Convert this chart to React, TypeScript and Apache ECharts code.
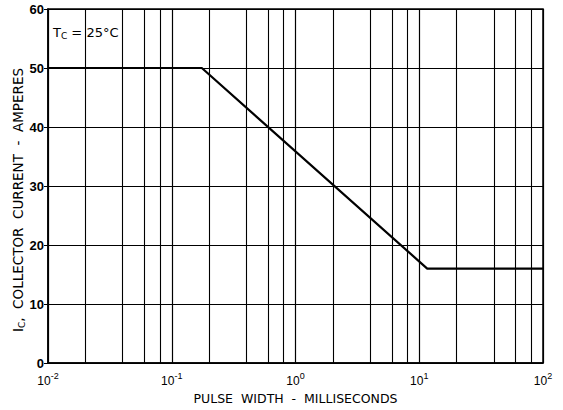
import React, { useEffect, useRef } from "react";
import * as echarts from "echarts";

const pulseWidthMs = [0.01, 0.175, 11.6, 100];
const collectorCurrentA = [50, 50, 16, 16];
const minorGridX = [
  0.02, 0.04, 0.06, 0.08,
  0.2, 0.4, 0.6, 0.8,
  2, 4, 6, 8,
  20, 40, 60, 80,
];
const xMin = 0.01;
const xMax = 100;
const yMin = 0;
const yMax = 60;
const yInterval = 10;

const FONT = "'Liberation Sans', Arial, sans-serif";
const WIDE = "'DejaVu Sans', sans-serif";

export default function App() {
  const ref = useRef<HTMLDivElement>(null);
  useEffect(() => {
    if (!ref.current) return;
    const chart = echarts.init(ref.current, null, { renderer: "svg" });
    chart.setOption({
      animation: false,
      backgroundColor: "#fff",
      grid: {
        left: 48,
        right: 20,
        top: 9,
        bottom: 46,
        show: true,
        borderColor: "#000",
        borderWidth: 1.5,
      },
      xAxis: {
        type: "log",
        logBase: 10,
        min: xMin,
        max: xMax,
        name: "PULSE  WIDTH  -  MILLISECONDS",
        nameLocation: "middle",
        nameGap: 29,
        nameTextStyle: { color: "#000", fontFamily: WIDE, fontSize: 12.5 },
        axisLine: { lineStyle: { color: "#000", width: 1.5 } },
        axisTick: { show: false },
        splitLine: { show: true, lineStyle: { color: "#000", width: 1.2 } },
        axisLabel: {
          color: "#000",
          margin: 8,
          formatter: (v: number) => `{b|10}{s|${Math.round(Math.log10(v))}}`,
          rich: {
            b: { fontFamily: FONT, fontSize: 12, color: "#000", padding: [4, 0, 0, 0] },
            s: { fontFamily: FONT, fontSize: 9, color: "#000", verticalAlign: "top", padding: [0, 0, 6, 0] },
          },
        },
      },
      yAxis: {
        type: "value",
        min: yMin,
        max: yMax,
        interval: yInterval,
        axisLine: { show: true, lineStyle: { color: "#000", width: 1.5 } },
        axisTick: { show: true, length: 4, lineStyle: { color: "#000" } },
        splitLine: { show: true, lineStyle: { color: "#000", width: 1.2 } },
        axisLabel: {
          color: "#000",
          fontFamily: FONT,
          fontSize: 13,
          fontWeight: "bold",
          margin: 4,
        },
      },
      graphic: [
        {
          type: "text",
          left: 53,
          top: 26,
          style: {
            text: "{t|T}{s|C}{t| = 25°C}",
            rich: {
              t: { fontFamily: WIDE, fontSize: 13, fill: "#000" },
              s: { fontFamily: WIDE, fontSize: 9, fill: "#000", verticalAlign: "bottom", padding: [7, 0, 0, 0] },
            },
          },
        },
        {
          type: "text",
          x: 18,
          y: 200,
          rotation: Math.PI / 2,
          style: {
            text: "{i|I}{sub|C}{n|,  COLLECTOR  CURRENT  -  AMPERES}",
            align: "center",
            verticalAlign: "middle",
            rich: {
              i: { fontFamily: WIDE, fontSize: 13.5, fill: "#000" },
              sub: { fontFamily: WIDE, fontSize: 9, fill: "#000", verticalAlign: "bottom", padding: [7, 0, 0, 0] },
              n: { fontFamily: WIDE, fontSize: 13.5, fill: "#000" },
            },
          },
        },
      ],
      series: [
        {
          type: "line",
          data: pulseWidthMs.map((x, i) => [x, collectorCurrentA[i]]),
          symbol: "none",
          lineStyle: { color: "#000", width: 2.2 },
          z: 5,
          markLine: {
            silent: true,
            symbol: "none",
            label: { show: false },
            lineStyle: { color: "#000", width: 1.1, type: "solid" },
            data: minorGridX.map((v) => ({ xAxis: v })),
          },
        },
      ],
    });
    return () => chart.dispose();
  }, []);
  return (
    <div
      ref={ref}
      style={{ position: "absolute", left: 0, top: 0, width: 563, height: 410 }}
    />
  );
}
